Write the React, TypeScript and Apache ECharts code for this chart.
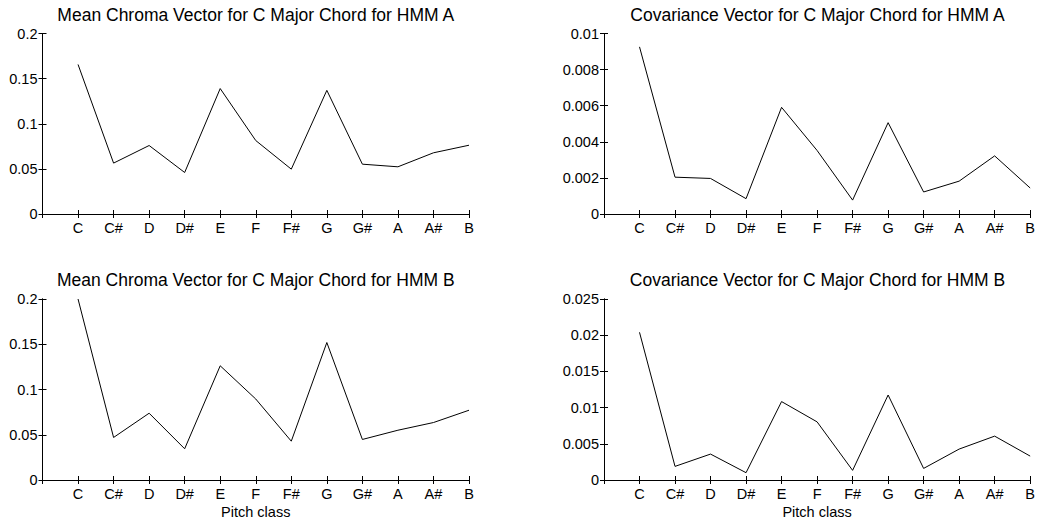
import React, { useEffect, useRef } from "react";
import * as echarts from "echarts";

const pitchClasses = ["C", "C#", "D", "D#", "E", "F", "F#", "G", "G#", "A", "A#", "B"];

const meanA = [0.1657, 0.0564, 0.0759, 0.046, 0.139, 0.0814, 0.0497, 0.137, 0.0552, 0.0523, 0.0678, 0.0762];
const covA = [0.00926, 0.00204, 0.00197, 0.00085, 0.00591, 0.00352, 0.00077, 0.00506, 0.00122, 0.00182, 0.00322, 0.00144];
const meanB = [0.2, 0.047, 0.0738, 0.0345, 0.1262, 0.0895, 0.0429, 0.1519, 0.0448, 0.055, 0.0635, 0.0771];
const covB = [0.0204, 0.00188, 0.00358, 0.00101, 0.01083, 0.00803, 0.00133, 0.01174, 0.0016, 0.00427, 0.00606, 0.0033];

const titles = [
  "Mean Chroma Vector for C Major Chord for HMM A",
  "Covariance Vector for C Major Chord for HMM A",
  "Mean Chroma Vector for C Major Chord for HMM B",
  "Covariance Vector for C Major Chord for HMM B",
];
const yMax = [0.2, 0.01, 0.2, 0.025];
const yStep = [0.05, 0.002, 0.05, 0.005];
const xName = ["", "", "Pitch class", "Pitch class"];
const seriesValues = [meanA, covA, meanB, covB];

const FONT = "'Liberation Sans', Arial, sans-serif";

export default function App() {
  const ref = useRef<HTMLDivElement>(null);
  useEffect(() => {
    if (!ref.current) return;
    const chart = echarts.init(ref.current, undefined, { renderer: "svg" });
    const grids = [
      { left: 42.5, top: 33.5, width: 426.5, height: 180.5 },
      { left: 604, top: 33.5, width: 427, height: 180.5 },
      { left: 42.5, top: 299, width: 426.5, height: 181 },
      { left: 604, top: 299, width: 427, height: 181 },
    ];
    const xAxes: any[] = [];
    const yAxes: any[] = [];
    const series: any[] = [];
    const title: any[] = [];
    grids.forEach((g, k) => {
      title.push({
        text: titles[k],
        left: g.left + g.width / 2,
        top: k < 2 ? 6 : 271,
        textAlign: "center",
        padding: 0,
        textStyle: { fontFamily: FONT, fontSize: 17.5, fontWeight: "normal", color: "#000" },
      });
      const axisCommon = {
        gridIndex: k,
        type: "value",
        axisLine: { show: true, lineStyle: { color: "#000", width: 1 } },
        axisTick: { show: true, inside: true, length: 4, lineStyle: { color: "#000", width: 1 } },
        splitLine: { show: false },
      };
      xAxes.push({
        ...axisCommon,
        position: "bottom",
        min: 0,
        max: 12,
        interval: 1,
        name: xName[k],
        nameLocation: "middle",
        nameGap: 24,
        nameTextStyle: { fontFamily: FONT, fontSize: 14.5, color: "#000" },
        axisLabel: {
          margin: 6,
          fontFamily: FONT,
          fontSize: 14.5,
          color: "#000",
          formatter: (v: number) => pitchClasses[v - 1] ?? "",
        },
      });
      xAxes.push({
        ...axisCommon,
        position: "top",
        min: 0,
        max: 12,
        interval: 1,
        axisLabel: { show: false },
      });
      yAxes.push({
        ...axisCommon,
        position: "left",
        min: 0,
        max: yMax[k],
        interval: yStep[k],
        axisLabel: { margin: 5, fontFamily: FONT, fontSize: 14.5, color: "#000" },
      });
      yAxes.push({
        ...axisCommon,
        position: "right",
        min: 0,
        max: yMax[k],
        interval: yStep[k],
        axisLabel: { show: false },
      });
      series.push({
        type: "line",
        xAxisIndex: k * 2,
        yAxisIndex: k * 2,
        symbol: "none",
        showSymbol: false,
        lineStyle: { color: "#000", width: 1 },
        data: pitchClasses.map((_, i) => [i + 1, seriesValues[k][i]]),
      });
    });
    chart.setOption({
      animation: false,
      backgroundColor: "#fff",
      title,
      grid: grids.map((g) => ({ ...g, containLabel: false })),
      xAxis: xAxes,
      yAxis: yAxes,
      series,
    });
    return () => chart.dispose();
  }, []);
  return (
    <div
      ref={ref}
      style={{ position: "fixed", left: 0, top: 0, width: 1038, height: 523, background: "#fff" }}
    />
  );
}
